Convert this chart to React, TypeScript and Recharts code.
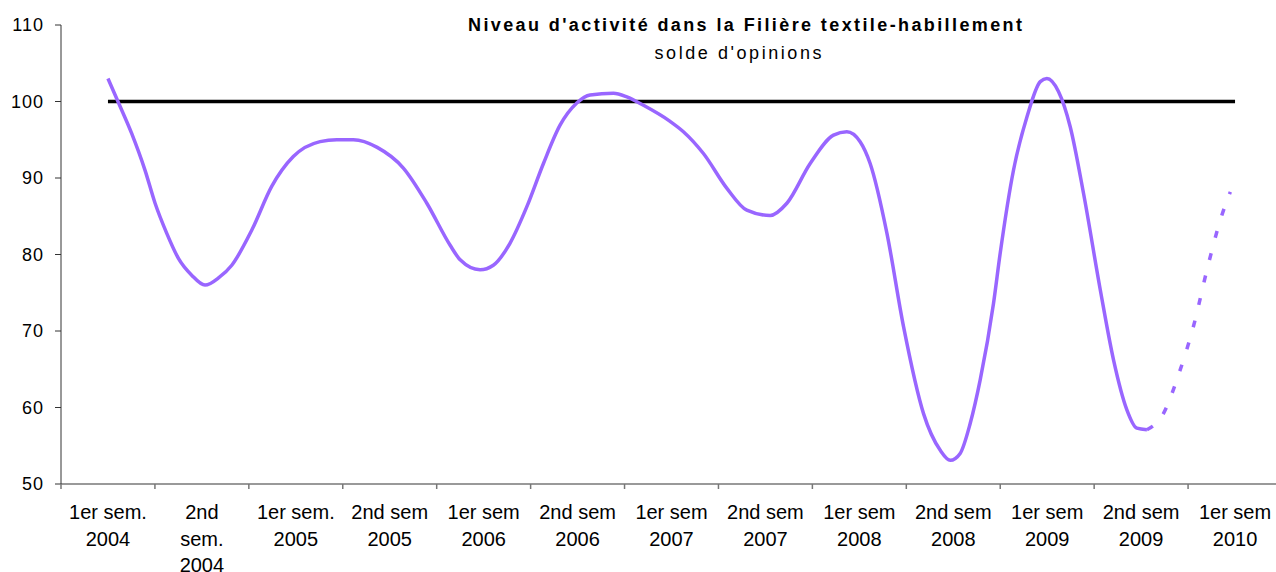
import React from 'react';
import { LineChart, Line, XAxis, YAxis } from 'recharts';

// Category labels (one per semester), each split into display lines
const categoryLabels: string[][] = [
  ['1er sem.', '2004'],
  ['2nd', 'sem.', '2004'],
  ['1er sem.', '2005'],
  ['2nd sem', '2005'],
  ['1er sem', '2006'],
  ['2nd sem', '2006'],
  ['1er sem', '2007'],
  ['2nd sem', '2007'],
  ['1er sem', '2008'],
  ['2nd sem', '2008'],
  ['1er sem', '2009'],
  ['2nd sem', '2009'],
  ['1er sem', '2010'],
];

const MONTHS_PER_SEM = 6;
const HALF = MONTHS_PER_SEM / 2;
const N_SEM = categoryLabels.length;
// ticks every half-semester: even multiples of HALF = boundaries, odd = category centres
const xTicks = Array.from({ length: N_SEM * 2 + 1 }, (_, i) => i * HALF);

const yTicks = [50, 60, 70, 80, 90, 100, 110];

// Observed activity level (month position since Jan 2004, value)
const obsMonths = [
  3.0, 3.66, 4.52, 5.37, 6.01, 6.75, 7.5, 8.35, 9.2, 10.1, 10.91, 12.19, 13.46, 14.84, 16.55, 17.62, 18.68,
  20.2, 21.87, 23.37, 24.86, 25.5, 26.77, 27.62, 28.69, 29.76, 30.82, 31.88, 32.95, 33.8, 35.29, 36.15,
  37.21, 38.91, 39.76, 41.04, 42.54, 43.81, 45.3, 46.37, 47.86, 49.35, 50.2, 51.05, 51.69, 52.76, 53.82,
  55.1, 56.17, 56.81, 57.44, 58.08, 58.72, 59.57, 60.0, 60.85, 61.71, 62.56, 62.98, 63.72, 64.47, 65.32,
  66.39, 67.24, 68.09, 68.73, 69.37,
];
const obsValues = [
  103.0, 99.9, 95.8, 91.0, 86.7, 82.8, 79.5, 77.3, 76.0, 77.0, 78.6, 83.2, 88.9, 92.8, 94.75, 95.0, 95.0,
  94.0, 91.3, 86.7, 81.2, 79.3, 78.0, 78.6, 81.5, 86.25, 91.9, 96.9, 99.8, 100.85, 101.07, 100.6,
  99.5, 97.4, 96.05, 93.2, 88.65, 85.8, 85.1, 86.7, 91.9, 95.6, 96.05, 94.75, 91.9, 82.8, 70.6,
  59.2, 54.4, 53.1, 54.0, 57.9, 63.6, 73.6, 80.2, 91.05, 98.0, 102.6, 103.0, 101.3, 96.7, 88.0,
  75.4, 66.2, 59.7, 57.3, 57.1,
];

// Forecast (dotted)
const fcMonths = [69.37, 70.37, 71.46, 72.31, 73.31, 74.06, 74.7];
const fcValues = [57.1, 59.0, 64.7, 70.35, 78.85, 84.5, 88.2];

// Reference level 100
const refMonths = [3, 75];
const refValues = [100, 100];

const obsData = obsMonths.map((t, i) => ({ t, v: obsValues[i] }));
const fcData = fcMonths.map((t, i) => ({ t, v: fcValues[i] }));
const refData = refMonths.map((t, i) => ({ t, v: refValues[i] }));

const FONT = '"Liberation Sans", Arial, sans-serif';
const PURPLE = '#9966ff';
const AXIS_GREY = '#777';
const MARK_LEN = 5;

const CategoryTick = (props: any) => {
  const { x, y, payload } = props;
  const k = Math.round(payload.value / HALF);
  if (k % 2 === 0) {
    // semester boundary: tick mark
    return <line x1={x} x2={x} y1={y - MARK_LEN} y2={y} stroke={AXIS_GREY} strokeWidth={1.5} />;
  }
  const lines = categoryLabels[(k - 1) / 2] || [];
  return (
    <text x={x} y={y} textAnchor="middle" fontSize={20} fill="#000" fontFamily={FONT}>
      {lines.map((l, i) => (
        <tspan key={i} x={x} dy={i === 0 ? 30 : 26.5}>
          {l}
        </tspan>
      ))}
    </text>
  );
};

export default function App() {
  return (
    <div
      style={{
        position: 'absolute',
        left: 0,
        top: 0,
        width: 1276,
        height: 572,
        overflow: 'hidden',
        background: '#fff',
      }}
    >
      <LineChart
        width={1290}
        height={572}
        margin={{ top: 25, right: 8, bottom: 0, left: 0 }}
        style={{ position: 'absolute', left: 0, top: 0 }}
      >
        <XAxis
          type="number"
          dataKey="t"
          domain={[0, N_SEM * MONTHS_PER_SEM]}
          ticks={xTicks}
          interval={0}
          tick={<CategoryTick />}
          tickLine={false}
          tickSize={MARK_LEN}
          tickMargin={0}
          height={88}
          stroke={AXIS_GREY}
          strokeWidth={1.5}
          allowDataOverflow
        />
        <YAxis
          type="number"
          domain={[50, 110]}
          ticks={yTicks}
          interval={0}
          width={61}
          tickSize={6}
          tickMargin={11}
          stroke="#333"
          tick={{ fontSize: 18, fill: '#000', fontFamily: FONT, letterSpacing: 1 }}
          allowDataOverflow
        />
        <Line
          data={refData}
          dataKey="v"
          type="linear"
          stroke="#000"
          strokeWidth={3.5}
          dot={false}
          activeDot={false}
          isAnimationActive={false}
        />
        <Line
          data={obsData}
          dataKey="v"
          type="monotone"
          stroke={PURPLE}
          strokeWidth={3.5}
          dot={false}
          activeDot={false}
          isAnimationActive={false}
        />
        <Line
          data={fcData}
          dataKey="v"
          type="monotone"
          stroke={PURPLE}
          strokeWidth={3.5}
          strokeDasharray="7 16"
          dot={false}
          activeDot={false}
          isAnimationActive={false}
        />
      </LineChart>
      <svg
        width={1276}
        height={80}
        style={{ position: 'absolute', left: 0, top: 0, pointerEvents: 'none' }}
      >
        <text
          x={745}
          y={31}
          textAnchor="middle"
          fontFamily={FONT}
          fontWeight="bold"
          fontSize={18}
          textLength={554}
          lengthAdjust="spacing"
          fill="#000"
        >
          Niveau d'activité dans la Filière textile-habillement
        </text>
        <text
          x={738}
          y={59}
          textAnchor="middle"
          fontFamily={FONT}
          fontSize={18}
          textLength={167}
          lengthAdjust="spacing"
          fill="#000"
        >
          solde d'opinions
        </text>
      </svg>
    </div>
  );
}
